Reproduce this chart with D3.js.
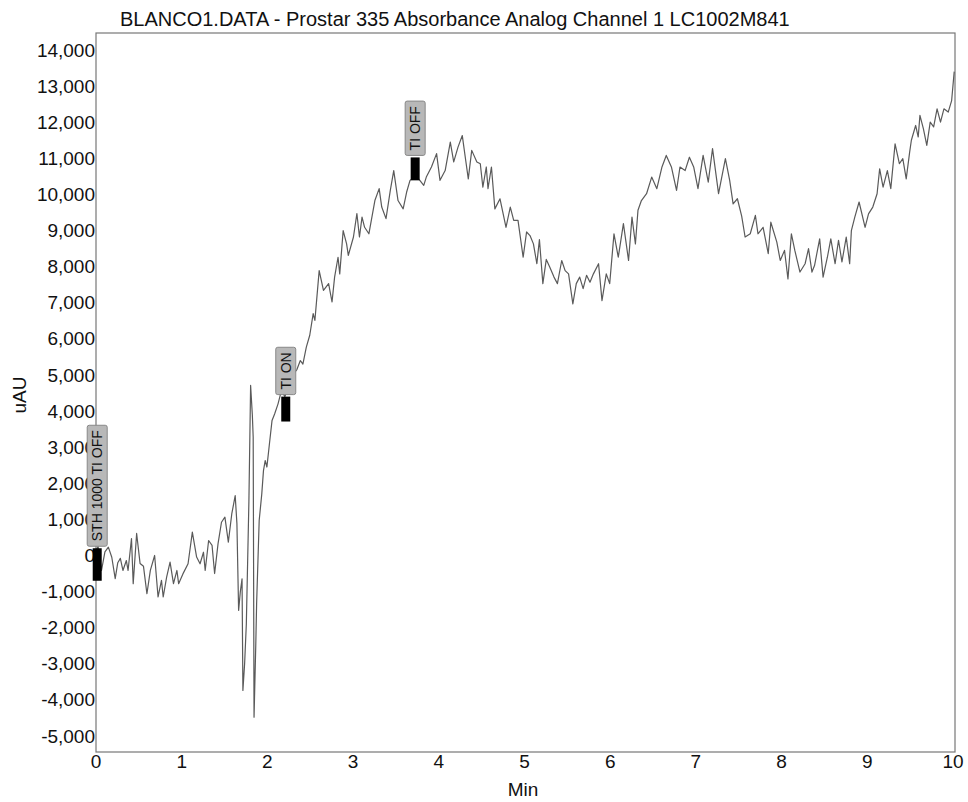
<!DOCTYPE html>
<html>
<head>
<meta charset="utf-8">
<script src="https://cdn.jsdelivr.net/npm/d3@7"></script>
<style>
  body { margin: 0; background: #fff; }
  text { font-family: "Liberation Sans", Arial, sans-serif; fill: #111; }
</style>
</head>
<body>
<div id="chart"></div>
<script>
// chromatogram trace: time (min) and signal (uAU)
const timeMin = [
  0.00, 0.03, 0.07, 0.11, 0.15, 0.19, 0.23, 0.26, 0.29, 0.32, 0.36, 0.38, 0.42, 0.44, 0.48, 0.52,
  0.56, 0.60, 0.64, 0.69, 0.73, 0.77, 0.79, 0.83, 0.87, 0.91, 0.95, 0.97, 1.02, 1.08, 1.13, 1.18,
  1.22, 1.26, 1.28, 1.32, 1.36, 1.39, 1.43, 1.47, 1.51, 1.55, 1.59, 1.63, 1.65, 1.67, 1.69, 1.71,
  1.72, 1.74, 1.76, 1.79, 1.81, 1.83, 1.84, 1.85, 1.87, 1.88, 1.91, 1.94, 1.96, 1.98, 2.00, 2.03,
  2.06, 2.09, 2.13, 2.17, 2.21, 2.25, 2.30, 2.35, 2.39, 2.42, 2.46, 2.50, 2.54, 2.56, 2.61, 2.66,
  2.72, 2.76, 2.79, 2.83, 2.85, 2.89, 2.93, 2.95, 3.01, 3.05, 3.08, 3.11, 3.14, 3.19, 3.26, 3.31,
  3.34, 3.39, 3.44, 3.48, 3.53, 3.59, 3.63, 3.67, 3.74, 3.78, 3.83, 3.86, 3.92, 3.98, 4.02, 4.08,
  4.14, 4.18, 4.23, 4.28, 4.32, 4.35, 4.39, 4.45, 4.49, 4.52, 4.56, 4.58, 4.62, 4.66, 4.72, 4.79,
  4.84, 4.88, 4.93, 4.99, 5.03, 5.07, 5.11, 5.15, 5.18, 5.22, 5.26, 5.30, 5.35, 5.39, 5.44, 5.48,
  5.52, 5.57, 5.61, 5.65, 5.69, 5.73, 5.77, 5.81, 5.87, 5.91, 5.96, 6.00, 6.05, 6.10, 6.16, 6.22,
  6.26, 6.30, 6.33, 6.37, 6.43, 6.49, 6.55, 6.61, 6.66, 6.72, 6.78, 6.82, 6.88, 6.93, 6.98, 7.03,
  7.09, 7.15, 7.20, 7.27, 7.35, 7.40, 7.44, 7.49, 7.54, 7.58, 7.64, 7.70, 7.73, 7.79, 7.85, 7.88,
  7.95, 7.99, 8.04, 8.08, 8.12, 8.16, 8.22, 8.28, 8.32, 8.36, 8.39, 8.45, 8.49, 8.54, 8.58, 8.63,
  8.67, 8.71, 8.76, 8.80, 8.82, 8.86, 8.91, 8.98, 9.02, 9.07, 9.12, 9.15, 9.19, 9.24, 9.28, 9.33,
  9.38, 9.42, 9.46, 9.50, 9.52, 9.57, 9.60, 9.62, 9.66, 9.70, 9.74, 9.78, 9.82, 9.86, 9.90, 9.95,
  9.99, 10.02
];
const signalUAU = [
  100, 250, -415, 100, 230, -50, -640, -200, -80, -415, -140, -415, 470, -780, 610, -220,
  -300, -1060, -415, 0, -1150, -690, -1150, -600, -185, -780, -415, -780, -510, -230, 645, -45,
  -230, 90, -415, 415, 280, -500, 330, 920, 1060, 370, 1150, 1660, 890, -1520, -1000, -650,
  -3740, -3000, -1900, 1500, 4710, 3900, 3280, -4480, -2500, -1340, 970, 1700, 2350, 2630, 2450, 3100,
  3740, 3920, 4200, 4570, 4400, 4700, 5000, 5150, 5400, 5300, 5770, 6100, 6700, 6510, 7890, 7340,
  7530, 7020, 7710, 8260, 7800, 9000, 8630, 8310, 8820, 9470, 8820, 9370, 9090, 8910, 9830, 10160,
  9650, 9330, 10110, 10660, 9830, 9600, 10060, 10390, 10530, 10400, 10250, 10480, 10760, 11130, 10390, 10660,
  11450, 10900, 11310, 11630, 10940, 10430, 11220, 10900, 10850, 10200, 10760, 10160, 10760, 9600, 9880, 9090,
  9650, 9280, 9280, 8260, 8960, 8860, 8630, 8080, 8750, 7530, 8200, 7990, 7710, 7530, 8170, 7890,
  7800, 6970, 7530, 7710, 7390, 7760, 7570, 7800, 8080, 7060, 7800, 7530, 8910, 8260, 9190, 8170,
  9370, 8630, 9560, 9830, 10020, 10480, 10160, 10760, 11080, 10760, 10110, 10760, 10660, 11030, 10760, 10160,
  11080, 10340, 11270, 10020, 10990, 10390, 9740, 9880, 9400, 8820, 8910, 9420, 8910, 9090, 8360, 9230,
  8680, 8170, 8450, 7660, 8910, 8450, 7850, 8080, 8500, 7850, 8030, 8770, 7710, 8260, 8770, 8080,
  8730, 8130, 8820, 8080, 9000, 9370, 9790, 9090, 9460, 9650, 10020, 10710, 10200, 10660, 10160, 11400,
  10850, 10990, 10430, 11170, 11500, 11910, 11590, 12190, 11820, 11360, 12000, 11870, 12370, 12000, 12370, 12280,
  12600, 13400
];

// event markers: label, time (min), bar top / bottom (uAU)
const markerLabels = ['STH 1000 TI OFF', 'TI ON', 'TI OFF'];
const markerTimes = [0.02, 2.22, 3.73];
const markerTops = [200, 4400, 11025];
const markerBottoms = [-700, 3710, 10390];

const xTicks = [0, 1, 2, 3, 4, 5, 6, 7, 8, 9, 10];
const yTicks = [-5000, -4000, -3000, -2000, -1000, 0, 1000, 2000, 3000, 4000,
  5000, 6000, 7000, 8000, 9000, 10000, 11000, 12000, 13000, 14000];

const titleText = 'BLANCO1.DATA - Prostar 335 Absorbance Analog Channel 1 LC1002M841';

const width = 968, height = 802;
const svg = d3.select('#chart').append('svg')
  .attr('width', width)
  .attr('height', height);

const x = d3.scaleLinear().domain([0, 10]).range([95.5, 952.5]);
const y = d3.scaleLinear().domain([-5000, 14000]).range([736, 50]);

// plot frame
svg.append('rect')
  .attr('x', 96).attr('y', 33)
  .attr('width', 859).attr('height', 719)
  .attr('fill', 'none')
  .attr('stroke', '#777')
  .attr('stroke-width', 1.2);

const fmt = d => d3.format(',')(d).replace('\u2212', '-');

// y axis labels
const yAxis = svg.append('g')
  .attr('transform', 'translate(95,0)')
  .call(d3.axisLeft(y).tickValues(yTicks).tickSize(0).tickPadding(0).tickFormat(fmt));
yAxis.select('.domain').remove();
yAxis.selectAll('text')
  .style('font-size', '19px')
  .style('font-family', '"Liberation Sans", Arial, sans-serif')
  .attr('fill', '#111');

// x axis labels
const xAxis = svg.append('g')
  .attr('transform', 'translate(0,752)')
  .call(d3.axisBottom(x).tickValues(xTicks).tickSize(0).tickPadding(2).tickFormat(d3.format('d')));
xAxis.select('.domain').remove();
xAxis.selectAll('text')
  .style('font-size', '19px')
  .style('font-family', '"Liberation Sans", Arial, sans-serif')
  .attr('fill', '#111');

// trace
const line = d3.line()
  .x((d, i) => x(timeMin[i]))
  .y(d => y(d));

svg.append('path')
  .datum(signalUAU)
  .attr('fill', 'none')
  .attr('stroke', '#5a5a5a')
  .attr('stroke-width', 1.2)
  .attr('stroke-linejoin', 'round')
  .attr('d', line);

// event markers
markerLabels.forEach((label, i) => {
  const cx = x(markerTimes[i]);
  const barTop = y(markerTops[i]);
  const barBottom = y(markerBottoms[i]);
  const g = svg.append('g');

  g.append('rect')
    .attr('x', cx - 4.5)
    .attr('y', barTop)
    .attr('width', 9)
    .attr('height', barBottom - barTop)
    .attr('fill', '#000');

  const t = g.append('text')
    .attr('font-size', '14px')
    .attr('text-anchor', 'middle')
    .attr('dominant-baseline', 'central')
    .text(label);
  const len = t.node().getComputedTextLength() + 10;
  const boxBottom = barTop - 2;
  g.insert('rect', 'text')
    .attr('x', cx - 10)
    .attr('y', boxBottom - len)
    .attr('width', 20)
    .attr('height', len)
    .attr('rx', 2)
    .attr('fill', '#b8b8b8')
    .attr('stroke', '#888');
  t.attr('transform', `translate(${cx},${boxBottom - len / 2}) rotate(-90)`);
});

// titles
svg.append('text')
  .attr('x', 120).attr('y', 26)
  .style('font-size', '20px')
  .text(titleText);

svg.append('text')
  .attr('transform', 'translate(26,395) rotate(-90)')
  .attr('text-anchor', 'middle')
  .style('font-size', '19px')
  .text('uAU');

svg.append('text')
  .attr('x', 523).attr('y', 796)
  .attr('text-anchor', 'middle')
  .style('font-size', '19px')
  .text('Min');
</script>
</body>
</html>
